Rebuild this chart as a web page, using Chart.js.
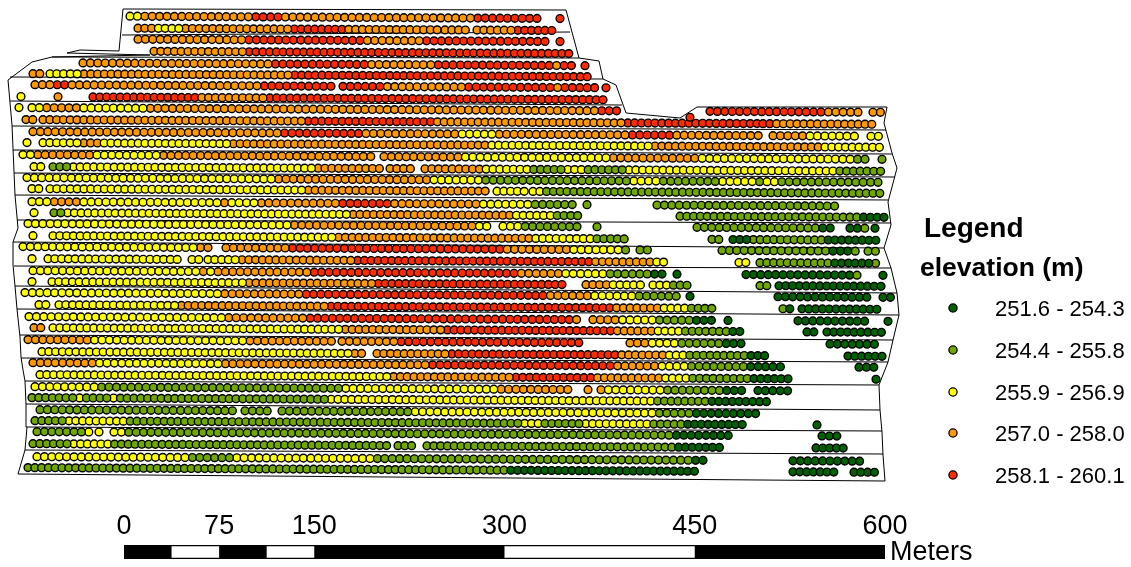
<!DOCTYPE html>
<html>
<head>
<meta charset="utf-8">
<style>html,body{margin:0;padding:0;background:#fff}canvas{display:block}</style>
<script src="https://cdn.jsdelivr.net/npm/chart.js@4"></script>
</head>
<body>
<canvas id="c" width="1131" height="567"></canvas>
<script>
// Class names and colours
const classLabels = ['251.6 - 254.3','254.4 - 255.8','255.9 - 256.9','257.0 - 258.0','258.1 - 260.1'];
const classKeys = ['d','g','y','o','r'];
const classColors = ['#006100','#70A800','#FFFF00','#FF9900','#FF2A00'];
const scaleTicks = [0,75,150,300,450,600];
const scaleWhite = [[37.5,75],[112.5,150],[300,450]];

// Map rows. rowY = northing of each harvest row in map units.
const rowY = [16,28,39,51,63,74,85,97,108,120,132,143,155,167,178,189,202,213,224,236,247,259,271,282,293,305,317,328,340,352,363,375,387,398,410,421,432,444,457,468,114];
// Runs along each row: class letter + easting where that run starts; "_" + easting closes a stretch of dots.
const rowRuns = [
"y130 o145 r258 o287 r477 _543 r560 _563",
"o138 y157 o184 r295 o345 _440 o445 _472 o477 r516 _560",
"o138 r250 o367 r425 _550 r560 _570",
"o154 r246 _572",
"o83 r277 o373 r437 o553 r561 _575 r585 _595",
"o33 _44 y50 o82 r293 _596",
"o35 r58 o72 r262 _336 r343 o383 r467 o557 r566 _598 r606 _616",
"y21 _24 o58 _61 r93 o203 r272 _608",
"y19 _22 y32 o47 y85 o151 r603 _620 r710 o825 _865 o873 _884",
"o26 _36 o43 r310 o437 r630 _760 r763 o778 _875",
"o33 r283 o367 y463 o502 r630 o675 _766 o773 y812 _860 y871 _882",
"y27 _30 y43 o84 y105 o235 y492 o652 y825 _885",
"y23 o38 y96 o162 _381 o384 y467 o613 y698 g855 _875 g882 _892",
"y34 _45 g53 y73 o315 _383 o390 _416 o425 y483 g530 y565 g585 y626 g837 _888",
"y27 o276 y431 g488 y630 g659 y723 g760 y767 g780 _885",
"y32 _42 y50 o310 _491 y497 _528 y533 g547 _885",
"y32 o54 y83 o220 y234 o257 r343 o395 y483 g537 _576 g587 _597 g657 _841",
"y34 _37 g54 y68 o353 y513 g558 _585 g680 d863 _888",
"y28 o297 y480 _497 y503 g525 _586 g597 _607 g697 d822 _839 d850 g865 _869 d875 _884",
"y33 _36 y53 o340 y532 g597 _631 g712 _723 d733 g755 d827 _880",
"y23 o200 _218 o226 r292 o503 y573 g627 _630 g640 _651 g722 d832 g853 _863 g868 _880",
"y32 _39 y48 _185 y192 _202 y208 o242 r360 o595 y657 _668 y739 _749 g760 d835 g873 _880",
"y33 o202 y209 o217 r315 o518 y566 g606 d657 _668 d677 _687 d746 g855 _865 d883 _886",
"y32 _35 y52 o250 r375 o568 _571 o586 y613 _646 y653 g672 _696 g760 _770 d779 _890",
"y25 o227 r305 o552 y595 g640 _680 d690 _700 d778 _873 d883 _894",
"y39 _50 y59 o183 r333 o617 y663 g690 _718 g783 d791 _794 d802 _880",
"y29 o230 r313 o577 _586 o593 y622 g658 d693 _718 d728 _731 d798 _871 d888 _891",
"o34 _45 y53 o347 r450 o615 y658 g686 d730 _748 d807 _817 d827 _890",
"o28 y92 o247 _335 o342 r400 _586 o630 y652 g678 d725 _751 d830 _883",
"y42 o352 _371 o377 r448 o620 y668 g688 d747 _773 d848 _886",
"o33 y97 o225 r433 o615 y660 g688 d752 _790 d859 _878",
"y40 o390 r518 o598 y665 g695 d753 _793 d876 _879",
"y35 g102 y342 o497 _573 o588 _591 o601 y608 g667 d725 _750 d758 _791",
"g32 y82 g88 y111 g117 y330 g658 d708 _771",
"g40 _240 g245 _276 g282 y418 g655 d698 _765",
"g35 y69 g132 y523 g545 y588 g652 d689 _748 d817 _820",
"g37 y89 _92 y99 _106 y114 g128 d678 _736 d822 _847",
"g33 y76 g112 _391 g398 _420 g427 d677 _726 d816 _846",
"y37 g193 y235 g378 d692 _713 d793 _865",
"g28 d510 _701 d793 _838 d854 _880",
"r690 _693"
];
// Field boundary and pass dividers (easting, northing)
const fieldOutline = [[123,9],[566,10],[579,58],[599,61],[603,79],[616,85],[626,113],[680,118],[697,107],[887,107],[884,123],[892,153],[897,168],[892,187],[888,202],[891,225],[884,248],[891,268],[897,293],[899,315],[893,340],[888,362],[879,385],[880,410],[882,432],[883,455],[885,481],[18,474],[25,450],[27,427],[26,404],[25,381],[23,370],[21,357],[20,337],[17,309],[15,286],[13,265],[13,242],[18,228],[15,195],[12,125],[8,80],[32,62],[52,57],[150,55],[67,53],[80,50],[119,51],[123,9]];
const dividers = [[122,35,570,32],[52,57,579,58],[10,77,603,79],[10,101,622,105],[12,126,886,130],[13,150,892,154],[14,173,895,177],[15,195,888,200],[17,220,891,223],[13,242,884,248],[14,266,891,268],[15,286,897,293],[17,309,899,315],[20,335,893,340],[21,358,888,362],[25,381,879,385],[26,404,880,410],[27,427,882,431],[25,450,883,454]];

// Layout constants for the map frame (not data)
const rowTilt = 0.0055, stepOdd = 7.4, stepEven = 6.8;
const pxPerMetre = 761/600, scaleOriginPx = 124;

const dots = Object.fromEntries(classKeys.map(k=>[k,[]]));
rowRuns.forEach((row,i)=>{
  const step = i%2 ? stepEven : stepOdd;
  const t = row.split(' ');
  let x = null;
  for(let j=0;j<t.length-1;j++){
    const c = t[j][0];
    if(c==='_'){ x = null; continue; }
    if(x===null) x = +t[j].slice(1);
    const end = +t[j+1].slice(1);
    for(; x<end-step*0.4; x+=step){
      dots[c].push({x, y: rowY[i]+rowTilt*(x-100)});
    }
  }
});
const linePts = [];
fieldOutline.forEach(p=>linePts.push({x:p[0],y:p[1]}));
dividers.forEach(d=>{linePts.push({x:null,y:null},{x:d[0],y:d[1]},{x:d[2],y:d[3]});});

const barY = 552;
const seg = (a,col,w,ord)=>({type:'scatter',showLine:true,xAxisID:'m',yAxisID:'y',data:[{x:a[0],y:barY},{x:a[1],y:barY}],
  borderColor:col,borderWidth:w,pointRadius:0,borderCapStyle:'butt',order:ord});

const datasets = [
  ...classKeys.map((k,i)=>({type:'scatter',label:classLabels[i],data:dots[k],backgroundColor:classColors[i],
     borderColor:'#000',borderWidth:1.4,pointRadius:3.9,pointHoverRadius:3.9,order:2})),
  {type:'scatter',showLine:true,data:linePts,borderColor:'#000',borderWidth:1,pointRadius:0,spanGaps:false,order:9},
  ...scaleWhite.map(a=>seg(a,'#fff',11.5,0)),
  seg([0,600],'#000',14,1)
];

const overlay = {id:'overlay',afterDraw(chart){
  const c = chart.ctx; c.save();
  c.fillStyle='#000'; c.textBaseline='alphabetic'; c.textAlign='left';
  c.font='bold 28px "Liberation Sans", Arial, sans-serif'; c.fillText('Legend',924,237);
  c.font='bold 26.5px "Liberation Sans", Arial, sans-serif'; c.fillText('elevation (m)',920,276);
  c.font='22px "Liberation Sans", Arial, sans-serif';
  const ys=[308,350,392,433,475];
  classLabels.forEach((l,i)=>{
    c.beginPath(); c.arc(953,ys[i],4.1,0,Math.PI*2); c.fillStyle=classColors[i]; c.fill();
    c.lineWidth=1.3; c.strokeStyle='#000'; c.stroke();
    c.fillStyle='#000'; c.fillText(l,995,ys[i]+8);
  });
  c.font='27px "Liberation Sans", Arial, sans-serif'; c.fillText('Meters',890,560);
  c.restore();
}};

new Chart(document.getElementById('c'),{
  data:{datasets},
  plugins:[overlay],
  options:{
    responsive:false,animation:false,devicePixelRatio:1,events:[],
    layout:{padding:0,autoPadding:false},
    plugins:{legend:{display:false},tooltip:{enabled:false},title:{display:false}},
    scales:{
      x:{type:'linear',min:0,max:1131,display:false},
      y:{type:'linear',min:0,max:567,reverse:true,display:false},
      m:{type:'linear',axis:'x',position:{y:510},
         min:-scaleOriginPx/pxPerMetre,max:(1131-scaleOriginPx)/pxPerMetre,
         grid:{display:false,drawTicks:false},border:{display:false},
         afterBuildTicks(s){s.ticks=scaleTicks.map(v=>({value:v}));},
         ticks:{autoSkip:false,maxRotation:0,padding:0,color:'#000',
                font:{family:'"Liberation Sans", Arial, sans-serif',size:27},
                callback:v=>String(v)}}
    }
  }
});
</script>
</body>
</html>
